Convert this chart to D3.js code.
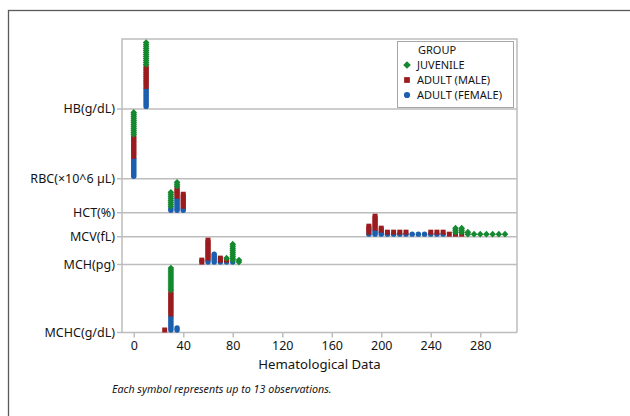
<!DOCTYPE html>
<html>
<head>
<meta charset="utf-8">
<script src="https://cdn.jsdelivr.net/npm/d3@7"></script>
<style>
  html, body { margin: 0; padding: 0; background: #fff; }
  svg { display: block; font-family: "Noto Sans", "Open Sans", sans-serif; }
</style>
</head>
<body>
<svg id="chart" width="630" height="416"></svg>
<script>
// Row variables (top to bottom) and the groups stacked in each dot column
const variables = ["HB(g/dL)", "RBC(×10^6 µL)", "HCT(%)", "MCV(fL)", "MCH(pg)", "MCHC(g/dL)"];
const groups = ["JUVENILE", "ADULT (MALE)", "ADULT (FEMALE)"];
const xTicks = [0, 40, 80, 120, 160, 200, 240, 280];

// Symbol counts per bin: [bin value, female, male, juvenile]
const hb   = [[10, 10, 11, 12]];
const rbc  = [[0, 10, 11, 12]];
const hct  = [[30, 2, 0, 8], [35, 7, 5, 3], [40, 2, 7, 0]];
const mcv  = [[190, 1, 4, 0], [195, 3, 7, 0], [200, 2, 2, 0], [205, 1, 1, 0], [210, 1, 1, 0],
              [215, 1, 1, 0], [220, 1, 1, 0], [225, 1, 0, 0], [230, 1, 0, 0], [235, 1, 0, 0],
              [240, 1, 1, 0], [245, 1, 1, 0], [250, 1, 1, 0], [255, 0, 1, 0], [260, 0, 1, 3],
              [265, 0, 1, 3], [270, 0, 0, 2], [275, 0, 0, 1], [280, 0, 0, 1], [285, 0, 0, 1],
              [290, 0, 0, 1], [295, 0, 0, 1], [300, 0, 0, 1]];
const mch  = [[55, 0, 2, 0], [60, 2, 10, 0], [65, 5, 0, 0], [70, 1, 2, 0], [75, 1, 1, 1],
              [80, 1, 0, 9], [85, 0, 0, 2]];
const mchc = [[25, 0, 1, 0], [30, 8, 12, 12], [35, 2, 0, 0]];

const rows = [hb, rbc, hct, mcv, mch, mchc];

const svg = d3.select("#chart");
const plot = { left: 122, right: 517, top: 39, bottom: 332.5 };
const ink = "#141414";

const colors = { "ADULT (FEMALE)": "#1b5fae", "ADULT (MALE)": "#9a1c1f", "JUVENILE": "#14892f" };
const shapes = {
  "ADULT (FEMALE)": d3.symbol(d3.symbolCircle, 23)(),
  "ADULT (MALE)": d3.symbol(d3.symbolSquare, 25)(),
  "JUVENILE": d3.symbol(d3.symbolSquare, 22)()
};
const rot = { "ADULT (FEMALE)": 0, "ADULT (MALE)": 0, "JUVENILE": 45 };

// Outer frame
svg.append("rect")
  .attr("x", 8.5).attr("y", 10.5).attr("width", 700).attr("height", 500)
  .attr("fill", "none").attr("stroke", "#5a5a5a").attr("stroke-width", 1.3);

// Each row is as tall as its highest stack (in symbol steps) plus a little padding
const rowUnits = rows.map(r => d3.max(r, d => d[1] + d[2] + d[3]) + 2);
const cum = [0];
rowUnits.forEach(u => cum.push(cum[cum.length - 1] + u));
const y = d3.scaleLinear().domain([0, cum[cum.length - 1]]).range([plot.top, plot.bottom]);
const x = d3.scaleLinear().domain([-9.5, 309.7]).range([plot.left, plot.right]);
const baselines = rows.map((r, i) => cum[i + 1]);

const grid = "#bdbdbd";

// Plot frame: top, left, right
svg.append("path")
  .attr("d", `M${plot.left},${y(cum[cum.length-1])} V${plot.top} H${plot.right} V${y(cum[cum.length-1])}`)
  .attr("fill", "none").attr("stroke", grid).attr("stroke-width", 1.5);

// Row baselines and y-axis labels
const yAxis = svg.append("g");
baselines.forEach((b, i) => {
  const yy = y(b);
  yAxis.append("line").attr("x1", plot.left - 5).attr("x2", plot.right)
    .attr("y1", yy).attr("y2", yy).attr("stroke", grid).attr("stroke-width", 1.5);
  yAxis.append("text").attr("x", plot.left - 7).attr("y", yy).attr("dy", "0.35em")
    .attr("text-anchor", "end").attr("font-size", 12.5).attr("fill", ink)
    .text(variables[i]);
});

// X axis along the bottom row
const xAxisY = y(baselines[baselines.length - 1]);
const xAxis = svg.append("g").attr("transform", `translate(0,${xAxisY})`)
  .call(d3.axisBottom(x).tickValues(xTicks).tickSize(5).tickPadding(4));
xAxis.select(".domain").remove();
xAxis.selectAll(".tick line").attr("stroke", grid).attr("stroke-width", 1.5);
xAxis.selectAll(".tick text").attr("font-size", 12.5).attr("fill", ink)
  .attr("font-family", "Noto Sans, sans-serif");

svg.append("text").attr("x", (plot.left + plot.right) / 2).attr("y", 369)
  .attr("text-anchor", "middle").attr("font-size", 13.2).attr("fill", ink)
  .text("Hematological Data");

svg.append("text").attr("x", 112).attr("y", 393)
  .attr("font-size", 10.7).attr("font-style", "italic").attr("fill", ink)
  .text("Each symbol represents up to 13 observations.");

// Stacked symbols: female at the bottom, then male, then juvenile
const order = ["ADULT (FEMALE)", "ADULT (MALE)", "JUVENILE"];
const marks = [];
rows.forEach((r, i) => {
  r.forEach(d => {
    let k = 0;
    order.forEach((g, gi) => {
      for (let n = 0; n < d[gi + 1]; n++) {
        marks.push({ bin: d[0], base: baselines[i], k: k++, group: g });
      }
    });
  });
});

svg.append("g").selectAll("path").data(marks).join("path")
  .attr("d", m => shapes[m.group])
  .attr("fill", m => colors[m.group])
  .attr("transform", m => `translate(${x(m.bin)},${y(m.base - 1.25 - m.k)}) rotate(${rot[m.group]})`);

// Legend
const lg = svg.append("g").attr("transform", "translate(397,41)");
lg.append("rect").attr("x", 0.5).attr("y", 0.5).attr("width", 116).attr("height", 66)
  .attr("fill", "#fff").attr("stroke", "#a6a6a6").attr("stroke-width", 1);
lg.append("text").attr("x", 21).attr("y", 13).attr("font-size", 11).attr("fill", ink).text("GROUP");
groups.forEach((g, i) => {
  const gy = 24 + i * 15;
  lg.append("path").attr("d", shapes[g]).attr("fill", colors[g])
    .attr("transform", `translate(10,${gy}) rotate(${rot[g]}) scale(1.15)`);
  lg.append("text").attr("x", 20).attr("y", gy).attr("dy", "0.35em")
    .attr("font-size", 11).attr("fill", ink).text(g);
});
</script>
</body>
</html>
